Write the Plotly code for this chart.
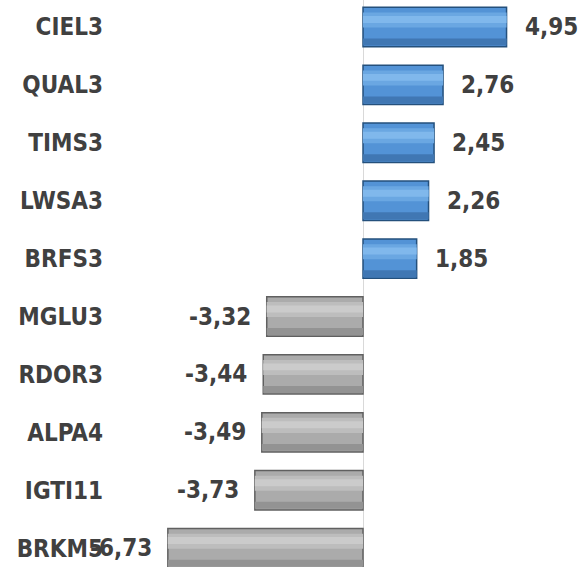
import plotly.graph_objects as go

tickers = ["CIEL3", "QUAL3", "TIMS3", "LWSA3", "BRFS3",
           "MGLU3", "RDOR3", "ALPA4", "IGTI11", "BRKM5"]
values = [4.95, 2.76, 2.45, 2.26, 1.85, -3.32, -3.44, -3.49, -3.73, -6.73]

FONT = "Liberation Sans Narrow, Arial Narrow, DejaVu Sans Condensed, sans-serif"
TXT = "#404040"

def pick(pos, neg):
    return [pos if v > 0 else neg for v in values]

fig = go.Figure()
# base bar
fig.add_trace(go.Bar(
    x=values, y=tickers, orientation="h", width=0.68, offset=-0.34,
    marker=dict(color=pick("#5393d6", "#ababab"),
                line=dict(color=pick("#24507c", "#606060"), width=1.5)),
    hoverinfo="x+y", showlegend=False,
))
# soft highlight bands (upper part) for a bevel-like look
fig.add_trace(go.Bar(
    x=values, y=tickers, orientation="h", width=0.26, offset=-0.25,
    marker=dict(color=pick("#6aa7e2", "#bdbdbd"), line=dict(width=0)),
    hoverinfo="skip", showlegend=False,
))
fig.add_trace(go.Bar(
    x=values, y=tickers, orientation="h", width=0.12, offset=-0.19,
    marker=dict(color=pick("#80b8ec", "#cbcbcb"), line=dict(width=0)),
    hoverinfo="skip", showlegend=False,
))
# darker band (lower part)
fig.add_trace(go.Bar(
    x=values, y=tickers, orientation="h", width=0.12, offset=0.2,
    marker=dict(color=pick("#4077b3", "#939393"), line=dict(width=0)),
    hoverinfo="skip", showlegend=False,
))

for t, v in zip(tickers, values):
    fig.add_annotation(
        x=v, y=t, text=f"{v:.2f}".replace(".", ","), showarrow=False,
        xanchor="left" if v > 0 else "right",
        xshift=16 if v > 0 else -14,
        font=dict(family=FONT, size=24, color=TXT, weight="bold"),
    )

fig.update_layout(
    width=579, height=567,
    margin=dict(l=150, r=0, t=0, b=0),
    paper_bgcolor="white", plot_bgcolor="white",
    barmode="overlay",
    xaxis=dict(range=[-7.345, 7.448], showgrid=False, showticklabels=False,
               zeroline=True, zerolinecolor="#d9d9d9", zerolinewidth=1,
               fixedrange=True),
    yaxis=dict(categoryorder="array", categoryarray=tickers,
               range=[9.326, -0.466], showgrid=False, ticks="",
               automargin=False, ticklabelstandoff=46, fixedrange=True,
               tickfont=dict(family=FONT, size=24, color=TXT, weight="bold")),
)

fig.write_html("out.html", config={"displayModeBar": False},
               post_script="document.body.style.margin='0';document.body.style.padding='0';")
